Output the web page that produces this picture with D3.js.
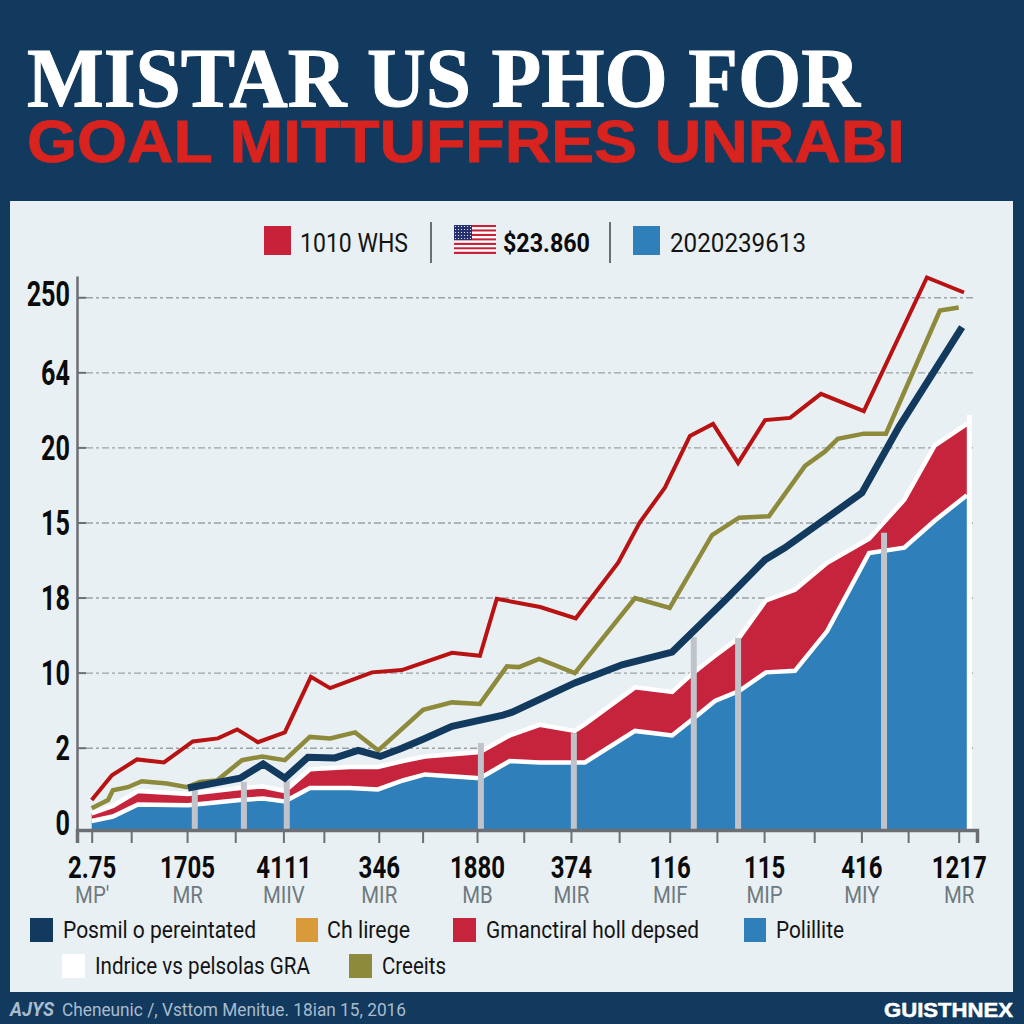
<!DOCTYPE html>
<html>
<head>
<meta charset="utf-8">
<script src="https://cdn.jsdelivr.net/npm/d3@7"></script>
<style>
  html, body { margin: 0; padding: 0; background: #12395e; }
  svg { display: block; }
  text { font-family: "Roboto", sans-serif; }
</style>
</head>
<body>
<svg id="chart" width="1024" height="1024"></svg>
<script>
// y axis labels are not in order on the original, so values are in grid steps
const yTickLabels = ["0", "2", "10", "18", "15", "20", "64", "250"];
const yTickSteps = [0, 1, 2, 3, 4, 5, 6, 7];

// x positions are in tick steps
const xTickSteps = [0, 0.82, 1.98, 2.98, 3.98, 4.82, 5.96, 6.87, 8, 8.97, 9.95, 10.95, 12, 12.98, 13.96, 15, 15.98, 16.95, 18];
const xMainLabels = ["2.75", "1705", "4111", "346", "1880", "374", "116", "115", "416", "1217"];
const xSubLabels = ["MP'", "MR", "MIIV", "MIR", "MB", "MIR", "MIF", "MIP", "MIY", "MR"];

const redLineX = [0, 0.42, 0.94, 1.5, 2.1, 2.62, 3.02, 3.45, 4.01, 4.55, 4.95, 5.82, 6.44, 7.48, 8.06, 8.41, 9.31, 10.05, 10.93, 11.38, 11.9, 12.42, 12.9, 13.42, 13.98, 14.5, 15.14, 16.03, 17.34, 18.11];
const redLineY = [0.31, 0.64, 0.85, 0.81, 1.09, 1.13, 1.25, 1.08, 1.21, 1.95, 1.8, 2.01, 2.04, 2.27, 2.23, 2.99, 2.88, 2.73, 3.47, 4.01, 4.47, 5.16, 5.32, 4.8, 5.37, 5.4, 5.72, 5.49, 7.27, 7.07];

const oliveLineX = [0, 0.34, 0.44, 0.75, 1.04, 1.56, 1.98, 2.25, 2.6, 3.12, 3.54, 4.01, 4.53, 4.95, 5.47, 5.95, 6.88, 7.48, 8.06, 8.62, 8.87, 9.29, 10.03, 11.28, 12, 12.88, 13.44, 14.06, 14.81, 15.22, 15.49, 16.03, 16.49, 17.61, 18];
const oliveLineY = [0.2, 0.31, 0.44, 0.48, 0.56, 0.53, 0.48, 0.55, 0.57, 0.84, 0.89, 0.84, 1.15, 1.13, 1.21, 0.97, 1.51, 1.61, 1.59, 2.09, 2.08, 2.19, 2, 3, 2.87, 3.84, 4.07, 4.09, 4.76, 4.95, 5.12, 5.19, 5.19, 6.83, 6.87];

const navyLineX = [2, 3.08, 3.56, 4.01, 4.49, 5.05, 5.53, 5.99, 6.44, 6.88, 7.48, 8.54, 8.73, 10.03, 11.01, 12.05, 13.15, 13.98, 14.39, 15.99, 16.76, 18.07];
const navyLineY = [0.47, 0.6, 0.79, 0.6, 0.88, 0.87, 0.97, 0.89, 1, 1.12, 1.29, 1.44, 1.48, 1.87, 2.11, 2.28, 2.97, 3.51, 3.67, 4.4, 5.28, 6.61];

const areaX = [0, 0.44, 0.96, 2, 3.08, 3.56, 4.01, 4.53, 5.36, 5.94, 6.46, 6.92, 8.06, 8.68, 9.3, 10.03, 10.24, 11.28, 12.05, 12.5, 12.94, 13.44, 14, 14.6, 15.27, 16.14, 16.87, 17.5, 18.17];
const redAreaTop = [0.13, 0.23, 0.43, 0.39, 0.47, 0.49, 0.43, 0.72, 0.75, 0.75, 0.83, 0.89, 0.95, 1.17, 1.31, 1.23, 1.32, 1.81, 1.75, 2.01, 2.23, 2.47, 2.97, 3.11, 3.47, 3.79, 4.31, 5.03, 5.32];
const blueAreaTop = [0.03, 0.09, 0.25, 0.24, 0.31, 0.33, 0.29, 0.47, 0.47, 0.45, 0.57, 0.65, 0.6, 0.83, 0.81, 0.81, 0.81, 1.23, 1.17, 1.4, 1.63, 1.76, 2.01, 2.03, 2.56, 3.6, 3.67, 4.03, 4.37];

const postX = [2.14, 3.16, 4.05, 8.08, 10.01, 12.5, 13.42, 16.45];
const postTop = [0.47, 0.55, 0.57, 1.07, 1.2, 2.48, 2.47, 3.87];

const navy = "#12395e";
const blue = "#2f7fbb";
const red = "#c6243c";
const darkRed = "#b81212";
const olive = "#8e8a3c";
const gold = "#d99a3a";
const panel = "#e9f0f3";
const axisGray = "#6b6f73";

const svg = d3.select("#chart");

svg.append("rect").attr("width", 1024).attr("height", 1024).attr("fill", navy);
svg.append("rect").attr("x", 10).attr("y", 201).attr("width", 1003).attr("height", 791).attr("fill", panel);

// Title
svg.append("text").attr("x", 27).attr("y", 107)
  .attr("textLength", 833).attr("lengthAdjust", "spacingAndGlyphs")
  .style("font-family", '"Liberation Serif", serif').style("font-weight", 700).style("font-size", "84px")
  .attr("fill", "#fff").attr("stroke", "#fff").attr("stroke-width", 1).text("MISTAR US PHO FOR");
svg.append("text").attr("x", 27).attr("y", 162)
  .attr("textLength", 878).attr("lengthAdjust", "spacingAndGlyphs")
  .style("font-family", '"Liberation Sans", sans-serif').style("font-weight", 700).style("font-size", "59px")
  .attr("fill", "#d8231f").attr("stroke", "#d8231f").attr("stroke-width", 0.8).text("GOAL MITTUFFRES UNRABI");

// Scales
const x = d3.scaleLinear().domain([-0.305, 18.38]).range([77, 977]);
const y = d3.scaleLinear().domain([-0.09, 7.29]).range([830, 276]);

// Gridlines
svg.append("g").selectAll("line")
  .data(yTickSteps.slice(1))
  .enter().append("line")
  .attr("x1", 86).attr("x2", 975)
  .attr("y1", d => y(d)).attr("y2", d => y(d))
  .attr("stroke", "#9aa1a5").attr("stroke-width", 1.4).attr("stroke-dasharray", "7 3 3 3");

// Areas
const areaRows = areaX.map((d, i) => ({ x: d, top: redAreaTop[i], mid: blueAreaTop[i] }));
const redArea = d3.area().x(d => x(d.x)).y0(d => y(d.mid)).y1(d => y(d.top));
const blueArea = d3.area().x(d => x(d.x)).y0(y(-0.09)).y1(d => y(d.mid));

svg.append("path").datum(areaRows).attr("d", redArea).attr("fill", red);
svg.append("path").datum(areaRows).attr("d", blueArea).attr("fill", blue);

const topEdge = d3.line().x(d => x(d.x)).y(d => y(d.top));
const midEdge = d3.line().x(d => x(d.x)).y(d => y(d.mid));
svg.append("path").datum(areaRows).attr("d", topEdge).attr("fill", "none").attr("stroke", "#fff").attr("stroke-width", 4.5);
svg.append("path").datum(areaRows).attr("d", midEdge).attr("fill", "none").attr("stroke", "#fff").attr("stroke-width", 4.5);

// white edge on the right of the areas
svg.append("line")
  .attr("x1", x(18.17) + 2.5).attr("x2", x(18.17) + 2.5)
  .attr("y1", y(-0.09)).attr("y2", y(5.44))
  .attr("stroke", "#fff").attr("stroke-width", 5);

// Grey posts
svg.append("g").selectAll("rect")
  .data(postX)
  .enter().append("rect")
  .attr("x", d => x(d) - 3)
  .attr("width", 6)
  .attr("y", (d, i) => y(postTop[i]))
  .attr("height", (d, i) => y(-0.09) - y(postTop[i]))
  .attr("fill", "#c0c4ca");

// Lines
function drawLine(xs, ys, color, width) {
  const line = d3.line().x(d => x(d[0])).y(d => y(d[1]));
  svg.append("path")
    .datum(xs.map((d, i) => [d, ys[i]]))
    .attr("d", line)
    .attr("fill", "none")
    .attr("stroke", color)
    .attr("stroke-width", width)
    .attr("stroke-linejoin", "miter");
}
drawLine(redLineX, redLineY, darkRed, 4);
drawLine(oliveLineX, oliveLineY, olive, 4.5);
drawLine(navyLineX, navyLineY, navy, 7);

// Axes
const yAxis = svg.append("g")
  .attr("transform", "translate(77,0)")
  .call(d3.axisLeft(y).tickValues(yTickSteps).tickFormat(d => yTickLabels[d]).tickSize(0).tickPadding(7));
yAxis.select(".domain").attr("stroke", axisGray).attr("stroke-width", 2.5);
// no condensed font is installed, so the labels are squeezed sideways
yAxis.selectAll("text")
  .attr("x", -7 / 0.7)
  .attr("transform", d => d === 7 ? "translate(0,-4) scale(0.7,1)" : "scale(0.7,1)")
  .style("font-size", "36px").style("font-weight", 700).attr("fill", "#0b0b0b");

svg.append("g").selectAll("line")
  .data(yTickSteps.slice(1))
  .enter().append("line")
  .attr("x1", 77).attr("x2", 86)
  .attr("y1", d => y(d)).attr("y2", d => y(d))
  .attr("stroke", axisGray).attr("stroke-width", 2);

const xAxis = svg.append("g")
  .attr("transform", "translate(0,830)")
  .call(d3.axisBottom(x).tickValues(xTickSteps).tickSizeOuter(0).tickSize(13).tickPadding(12)
    .tickFormat((d, i) => i % 2 === 0 ? xMainLabels[i / 2] : ""));
xAxis.select(".domain").attr("stroke", axisGray).attr("stroke-width", 3.5);
xAxis.selectAll(".tick line").attr("stroke", axisGray).attr("stroke-width", 2);
xAxis.selectAll(".tick text")
  .attr("transform", "scale(0.75,1)")
  .style("font-size", "32px").style("font-weight", 700).attr("fill", "#0b0b0b");
xAxis.selectAll(".tick")
  .filter((d, i) => i % 2 === 0)
  .append("text")
  .attr("y", 73)
  .attr("text-anchor", "middle")
  .attr("transform", "scale(0.85,1)")
  .style("font-size", "24px")
  .attr("fill", "#6f7a80")
  .text((d, i) => xSubLabels[i]);

// Legends
function swatch(sx, sy, w, h, color, label, tx, baseline, len, size, weight) {
  svg.append("rect").attr("x", sx).attr("y", sy).attr("width", w).attr("height", h).attr("fill", color);
  svg.append("text").attr("x", tx).attr("y", baseline)
    .attr("textLength", len).attr("lengthAdjust", "spacingAndGlyphs")
    .style("font-size", size + "px").style("font-weight", weight || 400).attr("fill", "#141414").text(label);
}

swatch(264, 226, 27, 29, "#c8213a", "1010 WHS", 300, 252, 108, 26);
swatch(633, 226, 27, 29, blue, "2020239613", 670, 252, 136, 26);

svg.append("g").selectAll("line")
  .data([431, 610])
  .enter().append("line")
  .attr("x1", d => d).attr("x2", d => d)
  .attr("y1", 222).attr("y2", 263)
  .attr("stroke", axisGray).attr("stroke-width", 2);

// small flag
const flag = svg.append("g").attr("transform", "translate(454,225)");
flag.selectAll("rect")
  .data(d3.range(13))
  .enter().append("rect")
  .attr("y", d => d * 29 / 13).attr("width", 42).attr("height", 29 / 13)
  .attr("fill", d => d % 2 === 0 ? "#c8213a" : "#fff");
flag.append("rect").attr("width", 18).attr("height", 15).attr("fill", "#27306e");
flag.append("g").selectAll("circle")
  .data(d3.cross(d3.range(6), d3.range(5)))
  .enter().append("circle")
  .attr("cx", d => 1.5 + d[0] * 3)
  .attr("cy", d => 1.5 + d[1] * 3)
  .attr("r", 0.6)
  .attr("fill", "#fff");

svg.append("text").attr("x", 503).attr("y", 252)
  .attr("textLength", 87).attr("lengthAdjust", "spacingAndGlyphs")
  .style("font-size", "26px").style("font-weight", 700).attr("fill", "#0b0b0b").text("$23.860");

swatch(30, 918, 23, 24, navy, "Posmil o pereintated", 63, 938, 193, 24);
swatch(296, 918, 22, 24, gold, "Ch lirege", 327, 938, 83, 24);
swatch(453, 918, 23, 24, red, "Gmanctiral holl depsed", 486, 938, 213, 24);
swatch(744, 918, 22, 24, blue, "Polillite", 776, 938, 68, 24);
swatch(62, 954, 23, 24, "#fff", "Indrice vs pelsolas GRA", 95, 974, 215, 24);
swatch(349, 954, 23, 24, olive, "Creeits", 382, 974, 64, 24);

// Footer
svg.append("text").attr("x", 10).attr("y", 1016)
  .attr("textLength", 44).attr("lengthAdjust", "spacingAndGlyphs")
  .style("font-size", "20px").style("font-weight", 700).style("font-style", "italic")
  .attr("fill", "#a9bccd").text("AJYS");
svg.append("text").attr("x", 62).attr("y", 1016)
  .attr("textLength", 344).attr("lengthAdjust", "spacingAndGlyphs")
  .style("font-size", "19px").attr("fill", "#a9bccd").text("Cheneunic /, Vsttom Menitue. 18ian 15, 2016");
svg.append("text").attr("x", 884).attr("y", 1017)
  .attr("textLength", 129).attr("lengthAdjust", "spacingAndGlyphs")
  .style("font-family", '"Liberation Sans", sans-serif').style("font-size", "20px").style("font-weight", 700)
  .attr("fill", "#fff").attr("stroke", "#fff").attr("stroke-width", 0.5).text("GUISTHNEX");
</script>
</body>
</html>
